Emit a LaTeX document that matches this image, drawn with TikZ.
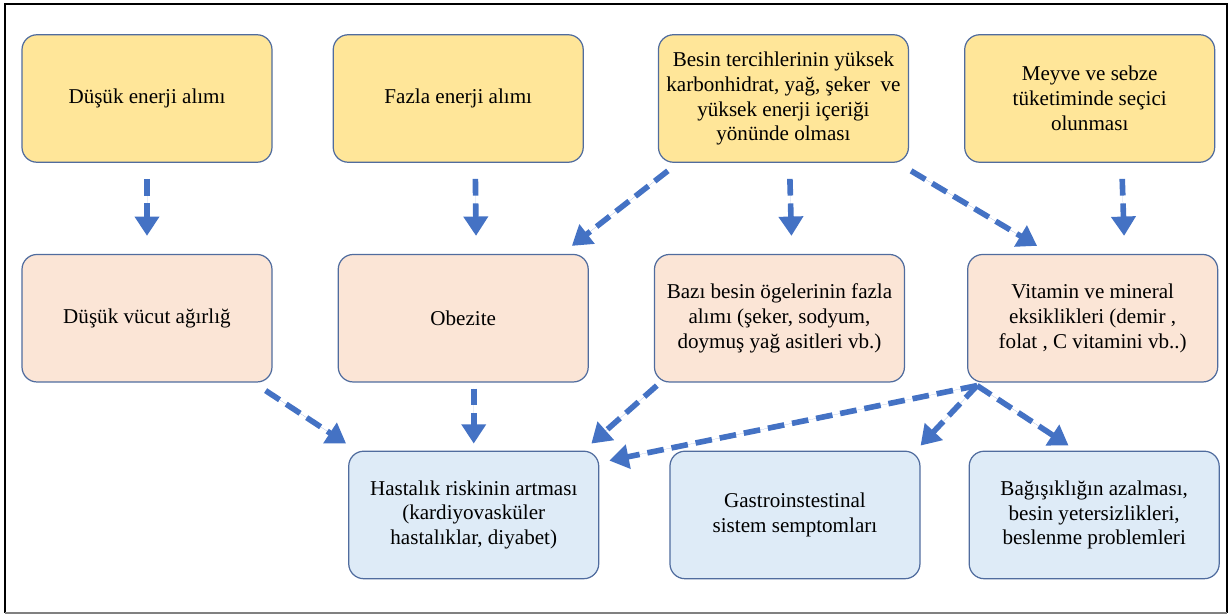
\documentclass[tikz,border=0pt]{standalone}
\usepackage{fontspec}
\setmainfont{Liberation Serif}
\newfontfamily\boxfont{LiberationSerif-Regular.ttf}
\usetikzlibrary{arrows.meta, positioning, calc}
\definecolor{boxline}{RGB}{80, 108, 158}
\definecolor{causeyellow}{RGB}{255, 230, 153}
\definecolor{effectpeach}{RGB}{251, 229, 214}
\definecolor{riskblue}{RGB}{222, 235, 247}
\definecolor{arrowblue}{RGB}{68, 114, 196}

\begin{document}
\begin{tikzpicture}[
  node distance = 1.82cm and 1.2cm,
  box/.style       = {rectangle, rounded corners=0.3cm, draw=boxline, line width=0.7pt,
                      minimum width=5cm, minimum height=2.55cm, inner sep=1pt,
                      align=center, font=\boxfont\fontsize{12}{14.2}\selectfont},
  causebox/.style  = {box, fill=causeyellow},
  effectbox/.style = {box, fill=effectpeach},
  riskbox/.style   = {box, fill=riskblue},
  arrow/.style     = {-{Triangle[length=11pt, width=13.5pt]}, draw=arrowblue, fill=arrowblue,
                      line width=3.2pt, dash pattern=on 9.5pt off 4.5pt},
  topgap/.style    = {shorten <=0.32cm, shorten >=0.36cm},
  lowgap/.style    = {shorten <=0.12cm, shorten >=0.14cm}
]
\useasboundingbox (0,0) rectangle (24.58,-12.28);

%% Frame
\draw[line width=1.4pt] (0.1,-12.26) -- (0.1,-0.08) -- (24.54,-0.08) -- (24.54,-12.26);
\draw[gray, line width=1pt] (0.1,-12.26) -- (24.54,-12.26);

%% Causes
\node[causebox] (lowin) at (2.94,-1.97) {Düşük enerji alımı};
\node[causebox, right=1.2cm of lowin] (highin) {Fazla enerji alımı};
\node[causebox, right=1.48cm of highin] (pref)
  {Besin tercihlerinin yüksek\\karbonhidrat, yağ, şeker~~ve\\yüksek enerji içeriği\\yönünde olması};
\node[causebox, right=1.1cm of pref] (fruit)
  {Meyve ve sebze\\tüketiminde seçici\\olunması};

%% Effects
\node[effectbox, below=of lowin] (lowwt) {Düşük vücut ağırlığ};
\node[effectbox, right=1.3cm of lowwt] (obese) {Obezite};
\node[effectbox, right=1.3cm of obese] (nutr)
  {Bazı besin ögelerinin fazla\\alımı (şeker, sodyum,\\doymuş yağ asitleri vb.)};
\node[effectbox, right=1.24cm of nutr] (vitmin)
  {Vitamin ve mineral\\eksiklikleri (demir ,\\folat , C vitamini vb..)};

%% Risks
\node[riskbox, below=1.36cm of obese, xshift=0.21cm] (disease)
  {Hastalık riskinin artması\\(kardiyovasküler\\hastalıklar, diyabet)};
\node[riskbox, right=1.4cm of disease] (gastro)
  {Gastroinstestinal\\sistem semptomları};
\node[riskbox, right=0.96cm of gastro] (immune)
  {Bağışıklığın azalması,\\besin yetersizlikleri,\\beslenme problemleri};

%% Causes to effects
\draw[arrow, topgap] (lowin.south) -- (lowwt.north);
\draw[arrow, topgap] ([xshift=0.34cm]highin.south) -- ([xshift=0.26cm]obese.north);
\draw[arrow, topgap] ([xshift=0.12cm]pref.south) -- ([xshift=0.25cm]nutr.north);
\draw[arrow, topgap] ([xshift=0.64cm]fruit.south) -- ([xshift=0.64cm]vitmin.north);
\draw[arrow] ([shift={(0.2,-0.16)}]pref.south west) -- ([shift={(-0.34,0.16)}]obese.north east);
\draw[arrow] ([shift={(0.04,-0.16)}]pref.south east) -- ([shift={(1.4,0.16)}]vitmin.north west);

%% Effects to risks
\draw[arrow] ([shift={(-0.14,-0.16)}]lowwt.south east) -- ([shift={(-0.04,0.14)}]disease.north west);
\draw[arrow, lowgap] (obese.south -| disease) -- (disease.north);
\draw[arrow] ([shift={(0.06,-0.06)}]nutr.south west) -- ([shift={(-0.16,0.14)}]disease.north east);
\coordinate (vmfoot) at ([shift={(0.2,-0.06)}]vitmin.south west);
\draw[arrow] (vmfoot) -- ([shift={(0.2,-0.2)}]disease.north east);
\draw[arrow] (vmfoot) -- ([shift={(0,0.1)}]gastro.north east);
\draw[arrow] (vmfoot) -- ([shift={(2.0,0.1)}]immune.north west);

\end{tikzpicture}
\end{document}
